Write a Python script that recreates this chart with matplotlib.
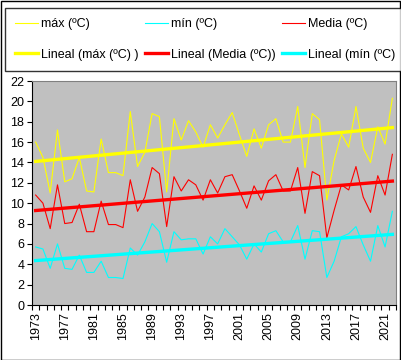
import numpy as np
import matplotlib
matplotlib.use('Agg')
import matplotlib.pyplot as plt
from matplotlib.patches import Rectangle

# yearly temperatures, 1973-2022
years = list(range(1973, 2023))
t_max = [16.0, 14.5, 11.0, 17.2, 12.1, 12.4, 14.5, 11.2, 11.1, 16.3,
         13.0, 13.0, 12.7, 19.0, 13.6, 15.0, 18.8, 18.5, 11.1, 18.3,
         16.2, 18.1, 17.0, 15.5, 17.7, 16.4, 17.7, 18.9, 16.7, 14.6,
         17.3, 15.4, 17.7, 18.3, 16.0, 16.0, 19.5, 13.5, 18.8, 18.2,
         10.3, 14.2, 16.8, 15.5, 19.5, 15.4, 14.0, 17.5, 15.8, 20.3]
t_min = [5.7, 5.5, 3.6, 6.0, 3.6, 3.5, 4.9, 3.2, 3.2, 4.3,
         2.7, 2.7, 2.6, 5.6, 4.9, 6.2, 8.0, 7.2, 4.2, 7.2,
         6.4, 6.5, 6.5, 5.0, 6.7, 6.0, 7.5, 6.7, 5.9, 4.5,
         6.0, 5.2, 7.0, 7.3, 6.2, 6.2, 7.8, 4.5, 7.3, 7.2,
         2.7, 4.3, 6.7, 7.0, 7.7, 5.9, 4.3, 7.8, 5.7, 9.2]
t_med = [10.8, 10.0, 7.5, 11.8, 8.0, 8.1, 9.9, 7.2, 7.2, 10.2,
         7.9, 7.9, 7.6, 12.3, 9.2, 10.6, 13.5, 12.9, 7.7, 12.6,
         11.2, 12.3, 11.8, 10.3, 12.3, 11.0, 12.6, 12.8, 11.2, 9.5,
         11.7, 10.3, 12.2, 12.8, 11.2, 11.2, 13.5, 9.0, 13.1, 12.7,
         6.6, 9.3, 11.8, 11.3, 13.6, 10.6, 9.1, 12.7, 10.8, 14.8]

x = np.arange(len(years))

def trend(vals):
    a, b = np.polyfit(x, vals, 1)
    return a * x + b

W, H = 401, 360
fig = plt.figure(figsize=(W / 100, H / 100), dpi=100)
plt.rcParams['font.family'] = ['Liberation Sans', 'DejaVu Sans']

ax = fig.add_axes([32 / W, 1 - 305 / H, 364 / W, 224 / H])
ax.set_facecolor('#c0c0c0')

l1, = ax.plot(x, t_max, color='#ffff00', lw=0.8, label='máx (ºC)')
l2, = ax.plot(x, t_min, color='#00ffff', lw=0.8, label='mín (ºC)')
l3, = ax.plot(x, t_med, color='#ff0000', lw=0.8, label='Media (ºC)')
l4, = ax.plot(x, trend(t_max), color='#ffff00', lw=2.4, label='Lineal (máx (ºC) )')
l5, = ax.plot(x, trend(t_med), color='#ff0000', lw=2.4, label='Lineal (Media (ºC))')
l6, = ax.plot(x, trend(t_min), color='#00ffff', lw=2.4, label='Lineal (mín (ºC)')

ax.set_xlim(-0.5, len(years) - 0.5)
ax.set_ylim(0, 22)
ax.set_yticks(range(0, 23, 2))
ax.tick_params(axis='y', direction='out', length=3.5, width=0.8, pad=2, labelsize=9)

ax.set_xticks(x[::4])
ax.set_xticklabels([str(y) for y in years[::4]], rotation=90)
ax.set_xticks(np.arange(-0.5, len(years), 1), minor=True)
ax.tick_params(axis='x', which='major', length=0, pad=5, labelsize=9)
ax.tick_params(axis='x', which='minor', direction='out', length=3.5, width=0.8)

for s in ['top', 'right']:
    ax.spines[s].set_color('#808080')
    ax.spines[s].set_linewidth(0.8)
for s in ['left', 'bottom']:
    ax.spines[s].set_color('black')
    ax.spines[s].set_linewidth(0.8)

leg = fig.legend([l1, l4, l2, l5, l3, l6],
                 [h.get_label() for h in [l1, l4, l2, l5, l3, l6]],
                 ncol=3, loc='upper left', bbox_to_anchor=(5 / W, 1 - 8 / H),
                 borderaxespad=0, fontsize=9, frameon=True, fancybox=False,
                 edgecolor='black', handlelength=1.85, handletextpad=0.25,
                 columnspacing=0.5, labelspacing=1.5, borderpad=0.8)
leg.get_frame().set_linewidth(1.0)

fig.patches.append(Rectangle((0.5 / W, 0.5 / H), 1 - 1.5 / W, 1 - 1.5 / H,
                             transform=fig.transFigure, fill=False,
                             edgecolor='black', lw=1.0))

plt.savefig('out.png', dpi=100)
